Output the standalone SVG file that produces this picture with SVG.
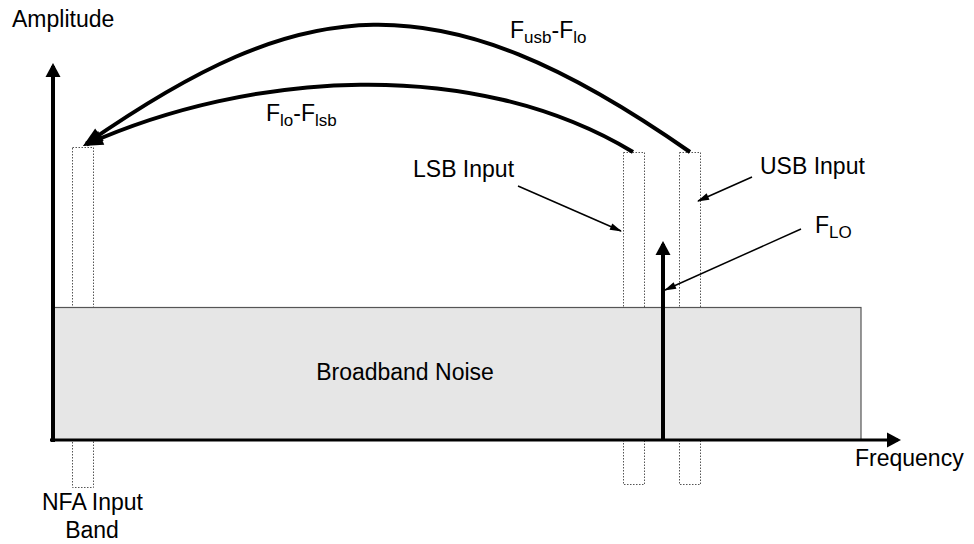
<svg xmlns="http://www.w3.org/2000/svg" width="974" height="544" viewBox="0 0 974 544">
<style>
  text { font-family: "Liberation Sans", Arial, sans-serif; fill: #000; }
  .lbl { font-size: 23px; }
  .sub { font-size: 17px; }
  .band { fill: none; stroke: #555; stroke-width: 1; stroke-dasharray: 1.5 1.5; }
  .noise { fill: #e6e6e6; stroke: #555; stroke-width: 1.2; }
  .axis { fill: none; stroke: #000; stroke-width: 4; marker-end: url(#axisHead); }
  .arc { fill: none; stroke: #000; stroke-width: 4; marker-end: url(#arcHead); }
  .lead { fill: none; stroke: #000; stroke-width: 1.5; marker-end: url(#smallHead); }
</style>
<defs>
  <marker id="axisHead" markerUnits="userSpaceOnUse" markerWidth="14" markerHeight="15" refX="11" refY="7.5" orient="auto" overflow="visible">
    <path d="M0,0 L14,7.5 L0,15 z" fill="#000"/>
  </marker>
  <marker id="arcHead" markerUnits="userSpaceOnUse" markerWidth="20" markerHeight="15" refX="16" refY="7.5" orient="auto" overflow="visible">
    <path d="M0,0 L20,7.5 L0,15 z" fill="#000"/>
  </marker>
  <marker id="smallHead" markerUnits="userSpaceOnUse" markerWidth="12" markerHeight="7" refX="11" refY="3.5" orient="auto" overflow="visible">
    <path d="M0,0 L12,3.5 L0,7 z" fill="#000"/>
  </marker>
</defs>

<g id="nfa-band"><rect class="band" x="72.5" y="147.5" width="21" height="340"/></g>
<g id="lsb-band"><rect class="band" x="623.5" y="152.5" width="21" height="332"/></g>
<g id="usb-band"><rect class="band" x="679.5" y="152.5" width="21" height="332"/></g>

<g id="broadband-noise">
  <rect class="noise" x="52.5" y="307.5" width="808.5" height="132.5"/>
  <text class="lbl" x="405" y="380" text-anchor="middle">Broadband Noise</text>
</g>

<g id="connectors">
  <path class="axis" d="M53,442 L53,66"/>
  <path class="axis" d="M50,440 L898,440" style="stroke-width:3"/>
  <path class="axis" d="M663,440 L663,244"/>
  <path class="arc" d="M690,152 C435,-26.5 302,-6 86.3,143.7"/>
  <path class="arc" d="M633,152 C472,55 249,72 86.6,144.4"/>
  <path class="lead" d="M518,186 L621,231"/>
  <path class="lead" d="M752,177 L698,201"/>
  <path class="lead" d="M801,229 L665,290"/>
</g>

<g id="labels">
  <text class="lbl" x="12" y="27">Amplitude</text>
  <text class="lbl" x="855" y="466">Frequency</text>
  <text class="lbl" x="413" y="177">LSB Input</text>
  <text class="lbl" x="760" y="174">USB Input</text>
  <text class="lbl" x="815" y="233">F<tspan class="sub" dy="5">LO</tspan></text>
  <text class="lbl" x="510" y="38">F<tspan class="sub" dy="5">usb</tspan><tspan dy="-5">-F</tspan><tspan class="sub" dy="5">lo</tspan></text>
  <text class="lbl" x="266" y="121">F<tspan class="sub" dy="5">lo</tspan><tspan dy="-5">-F</tspan><tspan class="sub" dy="5">lsb</tspan></text>
  <text class="lbl" x="42" y="510">NFA Input</text>
  <text class="lbl" x="92" y="538" text-anchor="middle">Band</text>
</g>
</svg>
